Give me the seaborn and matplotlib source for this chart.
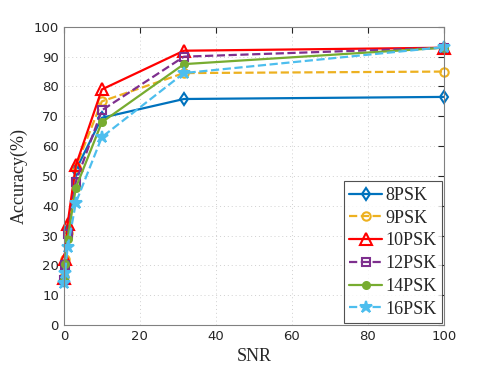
import numpy as np
import pandas as pd
import seaborn as sns
import matplotlib
matplotlib.use("Agg")
import matplotlib.pyplot as plt

snr = [0.1, 0.316, 1, 3.16, 10, 31.6, 100]
acc_8psk = [15.0, 20.0, 32.0, 52.0, 69.5, 75.8, 76.5]
acc_9psk = [16.0, 22.0, 31.0, 53.0, 75.0, 84.5, 85.0]
acc_10psk = [15.7, 22.0, 34.0, 53.5, 79.0, 92.0, 93.0]
acc_12psk = [15.0, 20.0, 30.5, 48.0, 72.0, 90.0, 93.0]
acc_14psk = [15.0, 20.5, 29.0, 46.0, 68.0, 87.5, 93.0]
acc_16psk = [14.2, 17.5, 26.0, 41.0, 63.0, 84.5, 93.2]
labels = ["8PSK", "9PSK", "10PSK", "12PSK", "14PSK", "16PSK"]

series = [acc_8psk, acc_9psk, acc_10psk, acc_12psk, acc_14psk, acc_16psk]
colors = ["#0072BD", "#EDB120", "#FF0000", "#7E2F8E", "#77AC30", "#4DBEEE"]
styles = ["-", "--", "-", "--", "-", "--"]
markers = ["d", "o", "^", "s", "o", "*"]
mfaces = ["none", "none", "none", "none", None, None]
msizes = [6, 6, 8, 6, 5, 9]

sns.set_style("white")
plt.rcParams["font.family"] = ["DejaVu Sans"]

fig = plt.figure(figsize=(4.91, 3.68), dpi=100)
ax = fig.add_axes([0.130, 0.117, 0.774, 0.810])

for vals, lab, c, ls, mk, mf, ms in zip(series, labels, colors, styles, markers, mfaces, msizes):
    df = pd.DataFrame({"SNR": snr, "Accuracy": vals})
    kw = dict(color=c, linestyle=ls, marker=mk, markersize=ms, markeredgewidth=1.5,
              linewidth=1.6, label=lab, markeredgecolor=c, clip_on=False)
    kw["markerfacecolor"] = "none" if mf == "none" else c
    sns.lineplot(data=df, x="SNR", y="Accuracy", ax=ax, **kw)

ax.set_xlim(0, 100)
ax.set_ylim(0, 100)
ax.set_xticks(np.arange(0, 101, 20))
ax.set_yticks(np.arange(0, 101, 10))
ax.grid(True, linestyle=(0, (1, 3)), color="#d0d0d0", linewidth=0.7)
ax.tick_params(direction="in", length=4, colors="#262626", labelsize=9.5,
               top=True, right=True, width=0.8)
for sp in ax.spines.values():
    sp.set_color("#808080")
    sp.set_linewidth(0.8)
ax.set_xlabel("SNR", fontsize=13, family="Liberation Serif")
ax.set_ylabel("Accuracy(%)", fontsize=13, family="Liberation Serif")

leg = ax.legend(loc="lower right", prop={"family": "Liberation Serif", "size": 13},
                frameon=True, fancybox=False, borderaxespad=0.1,
                handlelength=1.8, labelspacing=0.32, borderpad=0.3, handletextpad=0.2)
leg.get_frame().set_edgecolor("#262626")
leg.get_frame().set_linewidth(0.8)
leg.set_zorder(5)

fig.savefig("out.png", dpi=100)
